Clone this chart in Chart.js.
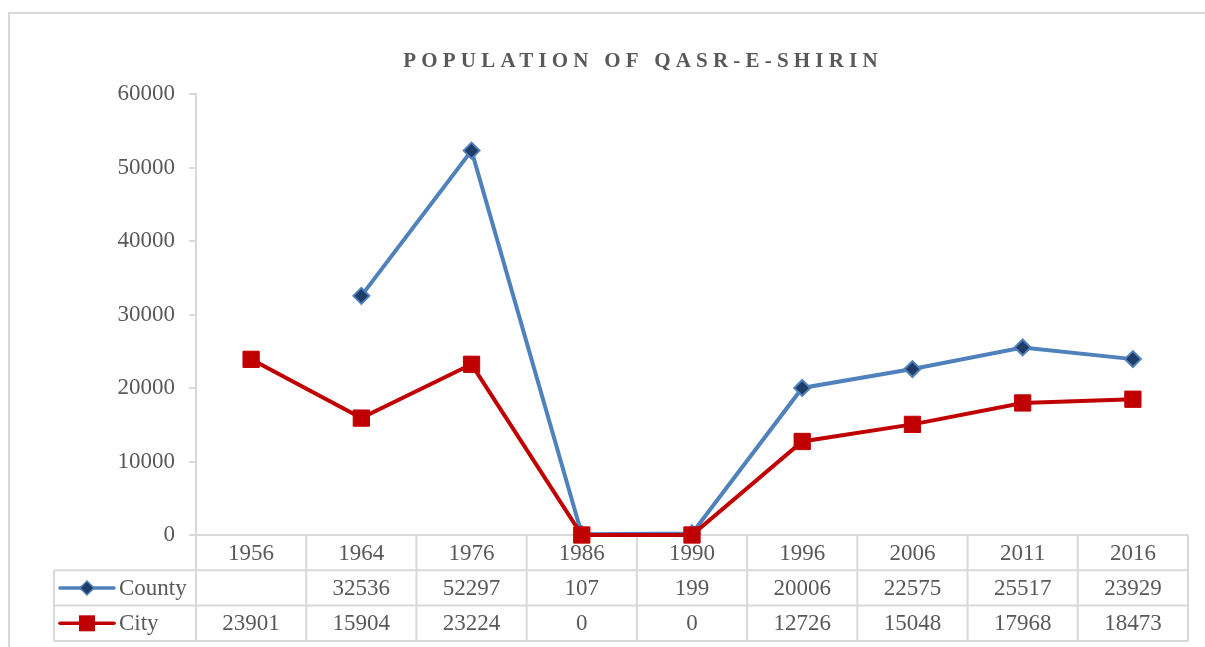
<!DOCTYPE html>
<html>
<head>
<meta charset="utf-8">
<script src="https://cdn.jsdelivr.net/npm/chart.js@4/dist/chart.umd.min.js"></script>
<style>
  html, body { margin: 0; padding: 0; background: #ffffff; }
  #wrap { width: 1205px; height: 647px; position: relative; }
</style>
</head>
<body>
<div id="wrap"><canvas id="c" width="1205" height="647"></canvas></div>
<script>
// ---- data ----
const chartTitle = 'POPULATION OF QASR-E-SHIRIN';
const years = ['1956', '1964', '1976', '1986', '1990', '1996', '2006', '2011', '2016'];
const countyValues = [null, 32536, 52297, 107, 199, 20006, 22575, 25517, 23929];
const cityValues = [23901, 15904, 23224, 0, 0, 12726, 15048, 17968, 18473];
const seriesNames = ['County', 'City'];
const yMin = 0, yMax = 60000, yStep = 10000;

// ---- styles ----
const FONT = '"Liberation Serif", "Times New Roman", serif';
const TXT = '#595959';
const GRID = '#d9d9d9';
const BLUE = '#4F81BD';
const NAVY = '#1F3D66';
const RED = '#C00000';
const FS = 23;

const frame = {
  id: 'frame',
  beforeDraw(chart) {
    const ctx = chart.ctx;
    ctx.save();
    ctx.fillStyle = '#fff';
    ctx.fillRect(0, 0, chart.width, chart.height);
    ctx.strokeStyle = GRID;
    ctx.lineWidth = 2;
    ctx.strokeRect(9, 13, chart.width + 20, chart.height + 20);
    // title
    ctx.fillStyle = TXT;
    ctx.font = 'bold 21px ' + FONT;
    ctx.textBaseline = 'middle';
    ctx.textAlign = 'center';
    if ('letterSpacing' in ctx) ctx.letterSpacing = '5.2px';
    ctx.fillText(chartTitle, 643, 62);
    ctx.restore();
  }
};

function drawKey(ctx, x0, x1, y, color, style) {
  ctx.save();
  ctx.strokeStyle = color;
  ctx.lineWidth = 3.5;
  ctx.lineCap = 'round';
  ctx.beginPath();
  ctx.moveTo(x0, y); ctx.lineTo(x1, y);
  ctx.stroke();
  const cx = (x0 + x1) / 2;
  if (style === 'diamond') {
    ctx.fillStyle = NAVY;
    ctx.strokeStyle = BLUE;
    ctx.lineWidth = 1.5;
    ctx.beginPath();
    ctx.moveTo(cx, y - 7); ctx.lineTo(cx + 7, y); ctx.lineTo(cx, y + 7); ctx.lineTo(cx - 7, y);
    ctx.closePath(); ctx.fill(); ctx.stroke();
  } else {
    ctx.fillStyle = RED;
    ctx.fillRect(cx - 8, y - 8, 16, 16);
  }
  ctx.restore();
}

const dataTable = {
  id: 'dataTable',
  beforeDatasetsDraw(chart) {
    const ctx = chart.ctx;
    const xs = chart.scales.x;
    const area = chart.chartArea;
    const n = years.length;
    const colW = (area.right - area.left) / n;
    const tableLeft = 54;
    const rows = [area.bottom, area.bottom + 35.3, area.bottom + 70.6, area.bottom + 106];
    ctx.save();
    ctx.strokeStyle = GRID;
    ctx.lineWidth = 2;
    ctx.beginPath();
    ctx.moveTo(area.left - 7, rows[0]); ctx.lineTo(area.right, rows[0]);
    for (let r = 1; r < 4; r++) { ctx.moveTo(tableLeft, rows[r]); ctx.lineTo(area.right, rows[r]); }
    for (let i = 0; i <= n; i++) {
      const x = i < n ? xs.getPixelForValue(i) - colW / 2 : xs.getPixelForValue(n - 1) + colW / 2;
      ctx.moveTo(x, rows[0]); ctx.lineTo(x, rows[3]);
    }
    ctx.moveTo(tableLeft, rows[1]); ctx.lineTo(tableLeft, rows[3]);
    ctx.stroke();

    ctx.fillStyle = TXT;
    ctx.font = FS + 'px ' + FONT;
    ctx.textAlign = 'center';
    ctx.textBaseline = 'middle';
    const series = [countyValues, cityValues];
    for (let i = 0; i < n; i++) {
      const cx = xs.getPixelForValue(i);
      ctx.fillText(years[i], cx, (rows[0] + rows[1]) / 2 + 1);
      for (let s = 0; s < 2; s++) {
        const v = series[s][i];
        if (v !== null && v !== undefined) ctx.fillText(String(v), cx, (rows[s + 1] + rows[s + 2]) / 2 + 1);
      }
    }
    ctx.textAlign = 'left';
    for (let s = 0; s < 2; s++) {
      const y = (rows[s + 1] + rows[s + 2]) / 2;
      drawKey(ctx, 60, 114, y, s === 0 ? BLUE : RED, s === 0 ? 'diamond' : 'square');
      ctx.fillStyle = TXT;
      ctx.fillText(seriesNames[s], 119, y + 1);
    }
    ctx.beginPath();
    ctx.moveTo(area.left, rows[0]); ctx.lineTo(area.left, rows[3]);
    ctx.stroke();
    ctx.restore();
  }
};

new Chart(document.getElementById('c'), {
  type: 'line',
  data: {
    labels: years,
    datasets: [
      {
        label: seriesNames[0],
        data: countyValues,
        borderColor: BLUE,
        borderWidth: 4,
        pointStyle: 'rectRot',
        pointRadius: 8,
        pointBorderWidth: 2,
        pointBackgroundColor: NAVY,
        pointBorderColor: BLUE,
        tension: 0,
        clip: false,
        order: 1
      },
      {
        label: seriesNames[1],
        data: cityValues,
        borderColor: RED,
        borderWidth: 4,
        pointStyle: 'rect',
        pointRadius: 11.5,
        pointBorderWidth: 1,
        pointBackgroundColor: RED,
        pointBorderColor: RED,
        tension: 0,
        clip: false,
        order: 0
      }
    ]
  },
  options: {
    responsive: false,
    animation: false,
    devicePixelRatio: 1,
    layout: { padding: { top: 94, right: 17, bottom: 112, left: 0 } },
    plugins: { legend: { display: false }, title: { display: false }, tooltip: { enabled: false } },
    scales: {
      x: { type: 'category', offset: true, display: false },
      y: {
        min: yMin, max: yMax,
        afterFit(s) { s.width = 196; },
        ticks: { stepSize: yStep, color: TXT, font: { family: FONT, size: FS }, padding: 14,
                 callback: (v) => String(v) },
        grid: { drawOnChartArea: false, drawTicks: true, tickLength: 7, color: GRID, lineWidth: 2 },
        border: { color: GRID, width: 2 }
      }
    }
  },
  plugins: [frame, dataTable]
});
</script>
</body>
</html>
